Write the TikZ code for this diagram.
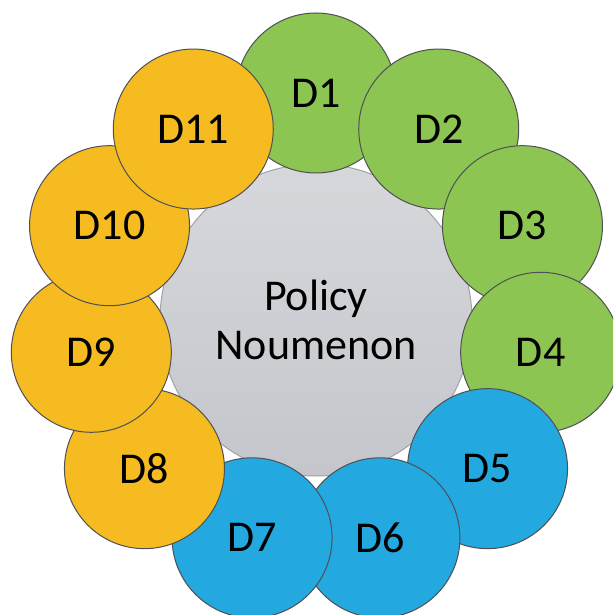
\documentclass[tikz,border=0pt]{standalone}
\usepackage{fontspec}
\setmainfont{Carlito}
\usepackage{tikz}
\usetikzlibrary{shapes.geometric}
\usetikzlibrary{positioning}
\definecolor{LeafGreen}{RGB}{140,197,82}
\definecolor{Gold}{RGB}{245,187,32}
\definecolor{SkyBlue}{RGB}{35,168,224}
\definecolor{Rim}{RGB}{78,80,84}
\tikzstyle{GreenBody} = [fill=LeafGreen, draw=Rim]
\tikzstyle{GoldBody}  = [fill=Gold, draw=Rim]
\tikzstyle{BlueBody}  = [fill=SkyBlue, draw=Rim]
\tikzstyle{GreyBody}  = [top color={rgb,255:red,214;green,216;blue,220},
                         bottom color={rgb,255:red,196;green,198;blue,203},
                         draw={rgb,255:red,160;green,162;blue,166}]
\tikzstyle{BasicDisc} = [circle, inner sep = 0pt, line width = 1pt, text = black,
                         font = \fontsize{44}{49}\selectfont, align = center]
\tikzstyle{Disc}      = [BasicDisc, minimum size = 160pt]
\tikzstyle{CoreDisc}  = [BasicDisc, minimum size = 312pt]

\begin{document}
\begin{tikzpicture}

\useasboundingbox (-316pt,-295pt) rectangle (297pt,320pt);
\clip (-316pt,-295pt) rectangle (297pt,320pt);

%% ------------------------------------------------------------------ [ Core ]
\node (policy) [CoreDisc, GreyBody] at (0,0) {Policy\\Noumenon};

%% ----------------------------------------------------------------- [ Green ]
\node (d1) [Disc, GreenBody] at (90:227pt) {D1};
\node (d2) [Disc, GreenBody] at (57.27:227pt) {D2};
\node (d3) [Disc, GreenBody] at (24.55:227pt) {D3};
\node (d4) [Disc, GreenBody] at (-8.18:227pt) {D4};

%% ------------------------------------------------------------------ [ Blue ]
\node (d5) [Disc, BlueBody] at (-40.91:227pt) {D5};
\node (d6) [Disc, BlueBody] at (-73.64:227pt) {D6};
\node (d7) [Disc, BlueBody] at (-106.36:227pt) {D7};

%% ------------------------------------------------------------------ [ Gold ]
\node (d8)  [Disc, GoldBody] at (-139.09:227pt) {D8};
\node (d9)  [Disc, GoldBody] at (-171.82:227pt) {D9};
\node (d10) [Disc, GoldBody] at (155.45:227pt) {D10};
\node (d11) [Disc, GoldBody] at (122.73:227pt) {D11};

\end{tikzpicture}
\end{document}
